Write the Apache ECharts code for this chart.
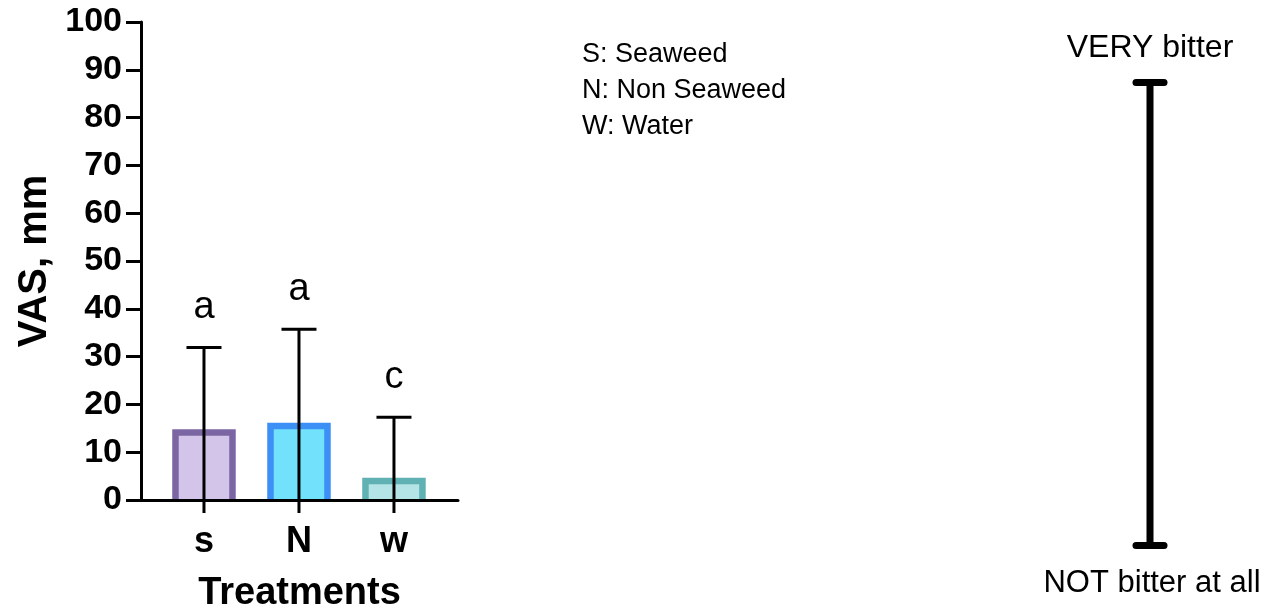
<!DOCTYPE html>
<html>
<head>
<meta charset="utf-8">
<script src="https://cdn.jsdelivr.net/npm/echarts@6/dist/echarts.min.js"></script>
<style>
html,body{margin:0;padding:0;background:#fff;}
#chart{width:1274px;height:611px;}
</style>
</head>
<body>
<div id="chart"></div>
<script>
// ---- data ----
const categories = ['s', 'N', 'w'];
const means = [14.1, 15.5, 4.0];
const upperSD = [31.9, 35.7, 17.3];
const sigLetters = ['a', 'a', 'c'];
const fillColors = ['#d3c5ea', '#72e2fc', '#b5e4e6'];
const borderColors = ['#7b66a3', '#3b8ff5', '#5fb1b4'];
const legendLines = ['S: Seaweed', 'N: Non Seaweed', 'W: Water'];
const scaleLabels = ['VERY bitter', 'NOT bitter at all'];
const scaleRange = [0, 100];

const FONT = '"Liberation Sans", Arial, Helvetica, sans-serif';
const chart = echarts.init(document.getElementById('chart'), null, {renderer: 'canvas'});

const barData = categories.map((c, i) => [i, means[i]]);
const errData = categories.map((c, i) => [i, upperSD[i]]);

const option = {
  backgroundColor: '#ffffff',
  animation: false,
  grid: [
    {left: 141, right: 816, top: 22, bottom: 111, containLabel: false, outerBoundsMode: 'none'},
    {left: 1130, width: 40, top: 82.5, bottom: 65.5, containLabel: false, outerBoundsMode: 'none'}
  ],
  xAxis: [
    {
      type: 'value', gridIndex: 0, min: -0.663, max: 2.674, z: 5,
      axisLine: {show: true, onZero: false, lineStyle: {color: '#000', width: 3}},
      axisTick: {show: false},
      axisLabel: {show: true, customValues: [0, 1, 2], formatter: v => categories[Math.round(v)],
        color: '#000', fontFamily: FONT, fontWeight: 'bold', fontSize: 36, margin: 24},
      splitLine: {show: false},
      name: 'Treatments', nameLocation: 'middle', nameGap: 75, nameMoveOverlap: false,
      nameTextStyle: {color: '#000', fontFamily: FONT, fontWeight: 'bold', fontSize: 38}
    },
    {
      type: 'category', gridIndex: 1, data: [''],
      axisLine: {show: false}, axisTick: {show: false}, axisLabel: {show: false}, splitLine: {show: false}
    }
  ],
  yAxis: [
    {
      type: 'value', gridIndex: 0, min: 0, max: 100, interval: 10, z: 5,
      axisLine: {show: true, onZero: false, lineStyle: {color: '#000', width: 3}},
      axisTick: {show: true, length: 15, lineStyle: {color: '#000', width: 3}},
      axisLabel: {color: '#000', fontFamily: FONT, fontWeight: 'bold', fontSize: 34, margin: 19},
      splitLine: {show: false},
      name: 'VAS, mm', nameLocation: 'middle', nameGap: 86, nameMoveOverlap: false,
      nameTextStyle: {color: '#000', fontFamily: FONT, fontWeight: 'bold', fontSize: 40}
    },
    {
      type: 'value', gridIndex: 1, min: scaleRange[0], max: scaleRange[1],
      axisLine: {show: false}, axisTick: {show: false}, axisLabel: {show: false}, splitLine: {show: false}
    }
  ],
  series: [
    {
      type: 'custom', xAxisIndex: 0, yAxisIndex: 0, z: 2,
      data: barData,
      renderItem: function (params, api) {
        const i = params.dataIndex;
        const x = api.value(0), y = api.value(1);
        const p0 = api.coord([x, 0]);
        const p1 = api.coord([x, y]);
        const w = api.size([1, 0])[0] * 0.6;
        return {
          type: 'group',
          children: [
            {type: 'rect', shape: {x: p0[0] - w / 2, y: p1[1], width: w, height: p0[1] - p1[1]},
              style: {fill: fillColors[i]}},
            {type: 'polyline', shape: {points: [[p0[0] - w / 2, p0[1]], [p0[0] - w / 2, p1[1]], [p0[0] + w / 2, p1[1]], [p0[0] + w / 2, p0[1]]]},
              style: {stroke: borderColors[i], lineWidth: 6.5, fill: null, lineJoin: 'miter'}}
          ]
        };
      }
    },
    {
      type: 'custom', xAxisIndex: 0, yAxisIndex: 0, z: 6,
      data: errData,
      renderItem: function (params, api) {
        const i = params.dataIndex;
        const x = api.value(0), up = api.value(1);
        const p0 = api.coord([x, 0]);
        const p1 = api.coord([x, up]);
        const capW = 35;
        const tickLen = 13;
        return {
          type: 'group',
          children: [
            {type: 'line', shape: {x1: p0[0], y1: p0[1] + tickLen, x2: p1[0], y2: p1[1]}, style: {stroke: '#000', lineWidth: 3}},
            {type: 'line', shape: {x1: p1[0] - capW / 2, y1: p1[1], x2: p1[0] + capW / 2, y2: p1[1]}, style: {stroke: '#000', lineWidth: 3}},
            {type: 'text', x: p1[0], y: p1[1] - 21,
              style: {text: sigLetters[i], font: '38px ' + FONT, fill: '#000', align: 'center', verticalAlign: 'bottom'}}
          ]
        };
      }
    },
    {
      type: 'custom', xAxisIndex: 1, yAxisIndex: 1,
      data: [[0, scaleRange[0], scaleRange[1]]],
      renderItem: function (params, api) {
        const lo = api.coord([api.value(0), api.value(1)]);
        const hi = api.coord([api.value(0), api.value(2)]);
        const capW = 28;
        return {
          type: 'group',
          children: [
            {type: 'line', shape: {x1: lo[0], y1: lo[1], x2: hi[0], y2: hi[1]}, style: {stroke: '#000', lineWidth: 7}},
            {type: 'line', shape: {x1: hi[0] - capW / 2, y1: hi[1], x2: hi[0] + capW / 2, y2: hi[1]}, style: {stroke: '#000', lineWidth: 7, lineCap: 'round'}},
            {type: 'line', shape: {x1: lo[0] - capW / 2, y1: lo[1], x2: lo[0] + capW / 2, y2: lo[1]}, style: {stroke: '#000', lineWidth: 7, lineCap: 'round'}},
            {type: 'text', x: hi[0], y: hi[1] - 34,
              style: {text: scaleLabels[0], font: '32px ' + FONT, fill: '#000', align: 'center', verticalAlign: 'middle'}},
            {type: 'text', x: lo[0] + 2, y: lo[1] + 38,
              style: {text: scaleLabels[1], font: '31px ' + FONT, fill: '#000', align: 'center', verticalAlign: 'middle'}}
          ]
        };
      }
    }
  ],
  graphic: [
    {type: 'text', left: 582, top: 37,
      style: {text: legendLines.join('\n'), font: '27px ' + FONT, fill: '#000', lineHeight: 36}}
  ]
};
chart.setOption(option);
</script>
</body>
</html>
